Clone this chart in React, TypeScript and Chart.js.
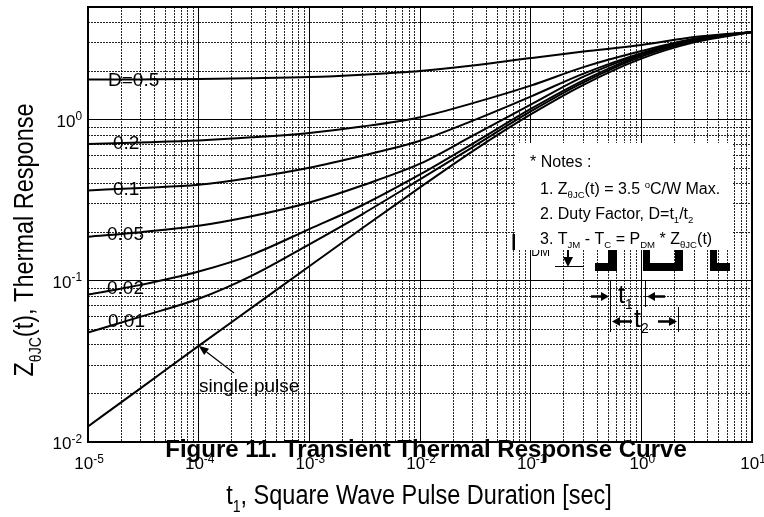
import { useEffect, useRef } from 'react';
import { Chart, registerables } from 'chart.js';
Chart.register(...registerables);

// ---- data ----
const tValues = [1e-5, 3e-5, 1e-4, 3e-4, 1e-3, 3e-3, 1e-2, 3e-2, 1e-1, 3e-1, 1, 3, 10];
const zD05 = [1.772, 1.777, 1.785, 1.805, 1.837, 1.9, 2.001, 2.165, 2.41, 2.646, 2.902, 3.253, 3.5];
const zD02 = [0.7066, 0.7228, 0.7437, 0.7764, 0.8268, 0.906, 1.036, 1.266, 1.626, 2.119, 2.665, 3.176, 3.5];
const zD01 = [0.3639, 0.3771, 0.3947, 0.4363, 0.5033, 0.5976, 0.7405, 0.9858, 1.39, 1.931, 2.588, 3.148, 3.5];
const zD005 = [0.1879, 0.2004, 0.2196, 0.2516, 0.3063, 0.3907, 0.5329, 0.7955, 1.239, 1.849, 2.552, 3.126, 3.5];
const zD002 = [0.0821, 0.0944, 0.1142, 0.145, 0.2095, 0.2944, 0.4573, 0.7106, 1.1655, 1.7543, 2.5155, 3.1038, 3.5];
const zD001 = [0.0477, 0.06, 0.0774, 0.1074, 0.1686, 0.2588, 0.4258, 0.6758, 1.1244, 1.7048, 2.4618, 3.0597, 3.5];
const zSingle = [0.0125, 0.0216, 0.0395, 0.068, 0.1231, 0.2119, 0.3798, 0.6383, 1.077, 1.645, 2.392, 3.017, 3.5];

const dutyLabels = ['D=0.5', '0.2', '0.1', '0.05', '0.02', '0.01'];
const singleLabel = 'single pulse';

const xDecadeExps = [-5, -4, -3, -2, -1, 0, 1];
const yDecadeExps = [-2, -1, 0];
const mantissas = [1, 2, 3, 4, 5, 6, 7, 8, 9];
const xMin = 1e-5, xMax = 10, yMin = 0.01, yMax = 5;

const FONT = '"Liberation Sans", Arial, Helvetica, sans-serif';

type Seg = { t: string; k?: 'sub' | 'sup' };
type RichOpts = {
  bold?: boolean; align?: 'left' | 'center' | 'right'; rot?: number; sx?: number;
  subS?: number; subDy?: number; supS?: number; supDy?: number;
};

function richText(ctx: CanvasRenderingContext2D, segs: Seg[], x: number, y: number, size: number, o: RichOpts = {}) {
  const sx = o.sx ?? 1;
  const w = o.bold ? 'bold ' : '';
  const subS = o.subS ?? 0.6, supS = o.supS ?? 0.7;
  const subDy = o.subDy ?? 0.28, supDy = o.supDy ?? 0.38;
  const fontFor = (s: Seg) => `${w}${s.k === 'sub' ? size * subS : s.k === 'sup' ? size * supS : size}px ${FONT}`;
  const widths: number[] = [];
  let total = 0;
  for (const s of segs) {
    ctx.font = fontFor(s);
    const m = ctx.measureText(s.t).width;
    widths.push(m);
    total += m;
  }
  ctx.save();
  ctx.translate(x, y);
  if (o.rot) ctx.rotate(o.rot);
  ctx.scale(sx, 1);
  let cx = o.align === 'center' ? -total / 2 : o.align === 'right' ? -total : 0;
  ctx.textBaseline = 'alphabetic';
  ctx.textAlign = 'left';
  ctx.fillStyle = '#000';
  segs.forEach((s, i) => {
    ctx.font = fontFor(s);
    const dy = s.k === 'sub' ? size * subDy : s.k === 'sup' ? -size * supDy : 0;
    ctx.fillText(s.t, cx, dy);
    cx += widths[i];
  });
  ctx.restore();
  return total * sx;
}

function arrow(ctx: CanvasRenderingContext2D, x1: number, y1: number, x2: number, y2: number, len: number, half: number, lw: number) {
  const a = Math.atan2(y2 - y1, x2 - x1);
  const bx = x2 - len * Math.cos(a), by = y2 - len * Math.sin(a);
  ctx.save();
  ctx.strokeStyle = '#000';
  ctx.fillStyle = '#000';
  ctx.lineWidth = lw;
  ctx.beginPath();
  ctx.moveTo(x1, y1);
  ctx.lineTo(bx, by);
  ctx.stroke();
  ctx.beginPath();
  ctx.moveTo(x2, y2);
  ctx.lineTo(bx + half * Math.sin(a), by - half * Math.cos(a));
  ctx.lineTo(bx - half * Math.sin(a), by + half * Math.cos(a));
  ctx.closePath();
  ctx.fill();
  ctx.restore();
}

function logInterp(xsArr: number[], ysArr: number[], x: number) {
  const lx = Math.log10(x);
  for (let i = 0; i < xsArr.length - 1; i++) {
    const a = Math.log10(xsArr[i]), b = Math.log10(xsArr[i + 1]);
    if (lx >= a && lx <= b) {
      const f = (lx - a) / (b - a);
      return Math.pow(10, Math.log10(ysArr[i]) + f * (Math.log10(ysArr[i + 1]) - Math.log10(ysArr[i])));
    }
  }
  return ysArr[0];
}

const isDecade = (v: number) => Math.abs(Math.log10(v) - Math.round(Math.log10(v))) < 1e-6;

function gridValues(exps: number[], lo: number, hi: number) {
  const out: number[] = [];
  exps.forEach((e) => mantissas.forEach((m) => {
    const v = parseFloat((m * Math.pow(10, e)).toPrecision(6));
    if (v >= lo * 0.999 && v <= hi * 1.001) out.push(v);
  }));
  return out;
}

const curveSets = [zD05, zD02, zD01, zD005, zD002, zD001, zSingle];

const annotPlugin = {
  id: 'annot',
  afterDraw(chart: any) {
    const ctx: CanvasRenderingContext2D = chart.ctx;
    const xs = chart.scales.x, ys = chart.scales.y;
    const ca = chart.chartArea;

    // frame
    ctx.save();
    ctx.strokeStyle = '#000';
    ctx.lineWidth = 2;
    ctx.strokeRect(ca.left, ca.top, ca.right - ca.left, ca.bottom - ca.top);
    ctx.restore();

    // tick labels
    yDecadeExps.forEach((e) => {
      const py = ys.getPixelForValue(Math.pow(10, e));
      richText(ctx, [{ t: '10' }, { t: String(e), k: 'sup' }], ca.left - 6, py + 7, 17, { align: 'right' });
    });
    xDecadeExps.forEach((e) => {
      const px = xs.getPixelForValue(Math.pow(10, e));
      richText(ctx, [{ t: '10' }, { t: String(e), k: 'sup' }], px + 1, ca.bottom + 27, 17, { align: 'center' });
    });

    // duty labels on the curves
    const offs = [20, 25, 25, 19, 19, 20];
    dutyLabels.forEach((lab, i) => {
      ctx.font = `19px ${FONT}`;
      const w = ctx.measureText(lab).width;
      const left = ca.left + offs[i];
      const tv = xs.getValueForPixel(left + w / 2);
      const py = ys.getPixelForValue(logInterp(tValues, curveSets[i], tv));
      richText(ctx, [{ t: lab }], left, py + 6.5, 19);
    });

    // single pulse annotation
    arrow(ctx, 234, 373, xs.getPixelForValue(1e-4), ys.getPixelForValue(logInterp(tValues, zSingle, 1e-4)), 10, 4, 1.2);
    richText(ctx, [{ t: singleLabel }], 199, 392, 19);

    // titles
    richText(ctx, [{ t: 'Figure 11. Transient Thermal Response Curve' }], 426, 457, 24, { bold: true, align: 'center' });
    richText(ctx, [{ t: 't' }, { t: '1', k: 'sub' }, { t: ', Square Wave Pulse Duration [sec]' }], 419, 504, 27, { align: 'center', sx: 0.87 });
    richText(ctx, [{ t: 'Z' }, { t: 'θJC', k: 'sub' }, { t: '(t), Thermal Response' }], 33, 240, 27, { align: 'center', sx: 0.87, rot: -Math.PI / 2 });

    // pulse diagram (partly hidden by the notes box)
    richText(ctx, [{ t: 'P' }, { t: 'DM', k: 'sub' }], 518, 250, 20, { subS: 0.6, subDy: 0.3 });
    ctx.save();
    ctx.fillStyle = '#000';
    ctx.fillRect(595, 263, 22, 8);
    ctx.fillRect(608, 240, 9, 31);
    ctx.fillRect(643, 263, 40, 8);
    ctx.fillRect(643, 240, 7, 31);
    ctx.fillRect(675, 240, 8, 31);
    ctx.fillRect(710, 263, 20, 8);
    ctx.fillRect(710, 240, 7, 31);
    ctx.restore();
    arrow(ctx, 568, 240, 568, 267, 10, 5, 2);
    ctx.save();
    ctx.strokeStyle = '#000';
    ctx.lineWidth = 1;
    ctx.beginPath();
    ctx.moveTo(555, 266.5);
    ctx.lineTo(584, 266.5);
    ctx.stroke();
    ctx.restore();

    // notes box
    ctx.save();
    ctx.fillStyle = '#fff';
    ctx.fillRect(515, 143, 218, 107);
    ctx.fillStyle = '#000';
    ctx.fillRect(512.5, 234, 2.5, 16);
    ctx.restore();
    richText(ctx, [{ t: '* Notes :' }], 530, 167, 16);
    richText(ctx, [{ t: '1. Z' }, { t: 'θJC', k: 'sub' }, { t: '(t) = 3.5 ' }, { t: 'o', k: 'sup' }, { t: 'C/W Max.' }], 540, 194, 16, { supS: 0.6, supDy: 0.4 });
    richText(ctx, [{ t: '2. Duty Factor, D=t' }, { t: '1', k: 'sub' }, { t: '/t' }, { t: '2', k: 'sub' }], 540, 218.5, 16);
    richText(ctx, [{ t: '3. T' }, { t: 'JM', k: 'sub' }, { t: ' - T' }, { t: 'C', k: 'sub' }, { t: ' = P' }, { t: 'DM', k: 'sub' }, { t: ' * Z' }, { t: 'θJC', k: 'sub' }, { t: '(t)' }], 540, 243.5, 16);

    // t1 / t2 dimensioning
    ctx.save();
    ctx.strokeStyle = '#000';
    ctx.lineWidth = 1;
    ctx.beginPath();
    ctx.moveTo(610.5, 280); ctx.lineTo(610.5, 332);
    ctx.moveTo(645.5, 280); ctx.lineTo(645.5, 307);
    ctx.moveTo(678.5, 307); ctx.lineTo(678.5, 332);
    ctx.stroke();
    ctx.restore();
    arrow(ctx, 591, 296.5, 609, 296.5, 8, 4.5, 2.5);
    arrow(ctx, 665, 296.5, 647, 296.5, 8, 4.5, 2.5);
    arrow(ctx, 632, 321.5, 612, 321.5, 8, 4.5, 2.5);
    arrow(ctx, 658, 321.5, 677, 321.5, 8, 4.5, 2.5);
    richText(ctx, [{ t: 't' }, { t: '1', k: 'sub' }], 618, 303, 25, { subS: 0.55, subDy: 0.22 });
    richText(ctx, [{ t: 't' }, { t: '2', k: 'sub' }], 634, 327, 25, { subS: 0.55, subDy: 0.22 });
  },
};

export default function App() {
  const ref = useRef<HTMLCanvasElement | null>(null);
  useEffect(() => {
    if (!ref.current) return;
    const mk = (arr: number[]) => tValues.map((t, i) => ({ x: t, y: arr[i] }));
    const xGrid = gridValues(xDecadeExps, xMin, xMax);
    const yGrid = gridValues(yDecadeExps, yMin, yMax);
    const gridColor = (c: any) => (c.tick && isDecade(c.tick.value) ? '#000' : 'rgba(0,0,0,0.85)');
    const gridDash = (c: any) => (c.tick && !isDecade(c.tick.value) ? [2, 1] : []);
    const chart = new Chart(ref.current, {
      type: 'line',
      data: {
        datasets: curveSets.map((arr, i) => ({
          label: i < dutyLabels.length ? dutyLabels[i] : singleLabel,
          data: mk(arr),
          borderColor: '#000',
          borderWidth: 2,
          pointRadius: 0,
          fill: false,
          cubicInterpolationMode: 'monotone' as const,
        })),
      },
      options: {
        animation: false,
        responsive: true,
        maintainAspectRatio: false,
        layout: { padding: { top: 7, right: 12, left: 0, bottom: 0 } },
        plugins: { legend: { display: false }, tooltip: { enabled: false } },
        scales: {
          x: {
            type: 'logarithmic',
            min: xMin,
            max: xMax,
            ticks: { display: false },
            grid: { color: gridColor, lineWidth: 1, drawTicks: false },
            border: { display: false, dash: gridDash },
            afterBuildTicks: (s: any) => { s.ticks = xGrid.map((v) => ({ value: v })); },
            afterFit: (s: any) => { s.height = 75; },
          },
          y: {
            type: 'logarithmic',
            min: yMin,
            max: yMax,
            ticks: { display: false },
            grid: { color: gridColor, lineWidth: 1, drawTicks: false },
            border: { display: false, dash: gridDash },
            afterBuildTicks: (s: any) => { s.ticks = yGrid.map((v) => ({ value: v })); },
            afterFit: (s: any) => { s.width = 88; },
          },
        },
      } as any,
      plugins: [annotPlugin],
    });
    return () => chart.destroy();
  }, []);
  return (
    <div style={{ position: 'absolute', left: 0, top: 0, width: 764, height: 517, background: '#fff' }}>
      <canvas ref={ref} />
    </div>
  );
}
